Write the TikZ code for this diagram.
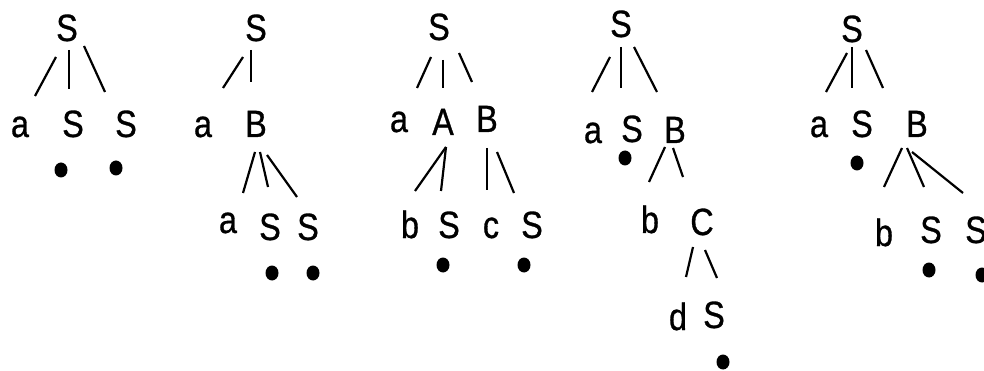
\documentclass[tikz,border=0pt]{standalone}
\usepackage{fontspec}
\setmainfont{Liberation Sans}[FakeStretch=0.85,FakeBold=0.8]
\usetikzlibrary{calc,shapes.geometric}
\tikzset{
  sym/.style={anchor=base, inner sep=0pt, font=\fontsize{38}{42}\selectfont},
  edge/.style={line width=2.2pt},
  leafdot/.style={ellipse, fill=black, inner sep=0pt, minimum width=13pt, minimum height=15pt}
}
\newcommand\tedge[4]{\draw[edge] ($(#1.base)+(#2)$) -- ($(#3.base)+(#4)$);}
\begin{document}
\begin{tikzpicture}[x=1pt,y=-1pt]
\useasboundingbox (0,0) rectangle (984,371);
% Tree 1
\node[sym] (aS) at (67,41) {S};
\node[sym] (aa) at (20,137) {a};
\node[sym] (aS2) at (73,137) {S};
\node[sym] (aS3) at (126,137) {S};
\node[leafdot] (ad1) at (61,170) {};
\node[leafdot] (ad2) at (116,168) {};
\tedge{aS}{-11,16}{aa}{15,-41}
\tedge{aS}{2,9}{aS2}{-4,-48}
\tedge{aS}{17,5}{aS3}{-21,-45}
% Tree 2
\node[sym] (bS) at (256,41) {S};
\node[sym] (ba) at (203,137) {a};
\node[sym] (bB) at (256,137) {B};
\node[sym] (ba2) at (228,233) {a};
\node[sym] (bS2) at (270,240) {S};
\node[sym] (bS3) at (308,240) {S};
\node[leafdot] (bd1) at (272,273) {};
\node[leafdot] (bd2) at (313,273) {};
\tedge{bS}{-13,16}{ba}{20,-49}
\tedge{bS}{-5,9}{bB}{-5,-55}
\tedge{bB}{-1,15}{ba2}{15,-40}
\tedge{bB}{4,15}{bS2}{-2,-53}
\tedge{bB}{11,18}{bS3}{-11,-43}
% Tree 3
\node[sym] (cS) at (439,40) {S};
\node[sym] (ca) at (399,132) {a};
\node[sym] (cA) at (443,135) {A};
\node[sym] (cB) at (487,132) {B};
\node[sym] (cb) at (410,238) {b};
\node[sym] (cS2) at (449,238) {S};
\node[sym] (cc) at (491,238) {c};
\node[sym] (cS3) at (532,238) {S};
\node[leafdot] (cd1) at (443,265) {};
\node[leafdot] (cd2) at (524,265) {};
\tedge{cS}{-8,17}{ca}{18,-44}
\tedge{cS}{4,20}{cA}{0,-47}
\tedge{cS}{20,13}{cB}{-15,-50}
\tedge{cA}{3,12}{cb}{5,-47}
\tedge{cA}{3,12}{cS2}{-8,-47}
\tedge{cB}{0,16}{cc}{-4,-48}
\tedge{cB}{10,20}{cS3}{-18,-45}
% Tree 4
\node[sym] (dS) at (621,37) {S};
\node[sym] (da) at (593,143) {a};
\node[sym] (dS2) at (632,142) {S};
\node[sym] (dB) at (675,143) {B};
\node[sym] (db) at (650,233) {b};
\node[sym] (dC) at (702,235) {C};
\node[sym] (dd) at (678,330) {d};
\node[sym] (dS3) at (714,328) {S};
\node[leafdot] (dd1) at (625,158) {};
\node[leafdot] (dd2) at (723,362) {};
\tedge{dS}{-11,20}{da}{-1,-51}
\tedge{dS}{0,10}{dS2}{-11,-54}
\tedge{dS}{13,10}{dB}{-18,-51}
\tedge{dB}{-10,4}{db}{-1,-51}
\tedge{dB}{-2,5}{dC}{-19,-58}
\tedge{dC}{-9,12}{dd}{8,-53}
\tedge{dC}{3,15}{dS3}{3,-50}
% Tree 5
\node[sym] (eS) at (852,42) {S};
\node[sym] (ea) at (819,137) {a};
\node[sym] (eS2) at (862,137) {S};
\node[sym] (eB) at (917,137) {B};
\node[sym] (eb) at (884,246) {b};
\node[sym] (eS3) at (931,243) {S};
\node[sym] (eS4) at (976,243) {S};
\node[leafdot] (ed1) at (857,163) {};
\node[leafdot] (ed2) at (929,270) {};
\node[leafdot] (ed3) at (982,275) {};
\tedge{eS}{-5,11}{ea}{7,-45}
\tedge{eS}{0,5}{eS2}{-10,-49}
\tedge{eS}{14,8}{eB}{-34,-49}
\tedge{eB}{-15,11}{eb}{0,-59}
\tedge{eB}{-10,11}{eS3}{-7,-56}
\tedge{eB}{-5,15}{eS4}{-13,-50}
\end{tikzpicture}
\end{document}
